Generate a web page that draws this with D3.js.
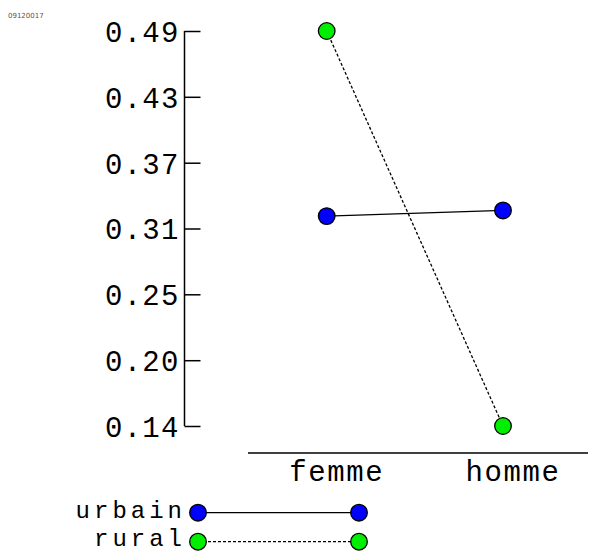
<!DOCTYPE html>
<html><head><meta charset="utf-8">
<script src="https://cdn.jsdelivr.net/npm/d3@7"></script>
<style>body{margin:0;background:#fff}svg{display:block}</style>
</head><body>
<svg id="c" width="592" height="554"></svg>
<script>
const categories = ["femme", "homme"];
const seriesNames = ["urbain", "rural"];
const urbain = [0.329, 0.334];
const rural = [0.493, 0.143];
const yTickValues = [0.143, 0.2013, 0.2597, 0.318, 0.3763, 0.4347, 0.493];
const yTickLabels = ["0.14", "0.20", "0.25", "0.31", "0.37", "0.43", "0.49"];
const colors = ["#0000ff", "#00ee00"];
const dashes = [null, "3,2"];

const svg = d3.select("#c");
const FONT = "'Liberation Mono', 'DejaVu Sans Mono', monospace";

svg.append("text").attr("x", 8).attr("y", 18).attr("font-family", "'DejaVu Sans', sans-serif")
  .attr("font-size", 7).attr("fill", "#555").text("09120017");

const y = d3.scaleLinear().domain([0.143, 0.493]).range([426, 31]);
const x = d3.scalePoint().domain(categories).range([326.7, 503]);

// y axis
const yAxis = d3.axisRight(y).tickValues(yTickValues).tickSize(16)
  .tickFormat((d, i) => yTickLabels[i]);
const ga = svg.append("g").attr("transform", "translate(184.5,0)").call(yAxis);
ga.select(".domain").attr("d", `M0,${y(0.143)}V${y(0.493)}`).attr("stroke", "#000").attr("stroke-width", 1.5);
ga.selectAll(".tick line").attr("stroke", "#000").attr("stroke-width", 1.5);
ga.selectAll(".tick text").attr("x", -5).attr("text-anchor", "end")
  .attr("font-family", FONT).attr("font-size", 29).attr("letter-spacing", 1.2)
  .attr("fill", "#000").attr("dy", "0.36em");

// x axis
svg.append("line").attr("x1", 248).attr("x2", 588).attr("y1", 453).attr("y2", 453)
  .attr("stroke", "#000").attr("stroke-width", 1.5);
svg.selectAll(".xl").data(categories).enter().append("text")
  .attr("x", d => x(d) + 10).attr("y", 481).attr("text-anchor", "middle")
  .attr("font-family", FONT).attr("font-size", 29).attr("letter-spacing", 1.6).text(d => d);

const series = [urbain, rural];
const line = d3.line().x((d, i) => x(categories[i])).y(d => y(d));
series.forEach((vals, s) => {
  svg.append("path").datum(vals).attr("d", line).attr("fill", "none")
    .attr("stroke", "#000").attr("stroke-width", 1.3).attr("stroke-dasharray", dashes[s]);
});
series.forEach((vals, s) => {
  svg.selectAll(".p" + s).data(vals).enter().append("circle")
    .attr("cx", (d, i) => x(categories[i])).attr("cy", d => y(d)).attr("r", 8.3)
    .attr("fill", colors[s]).attr("stroke", "#000").attr("stroke-width", 1.3);
});

// legend
const ly = [512.7, 541.7];
const lbase = [518, 546];
seriesNames.forEach((n, s) => {
  const g = svg.append("g");
  g.append("line").attr("x1", 198).attr("x2", 359).attr("y1", ly[s]).attr("y2", ly[s])
    .attr("stroke", "#000").attr("stroke-width", 1.3).attr("stroke-dasharray", dashes[s]);
  g.append("circle").attr("cx", 198).attr("cy", ly[s]).attr("r", 8.3)
    .attr("fill", colors[s]).attr("stroke", "#000").attr("stroke-width", 1.3);
  g.append("circle").attr("cx", 359).attr("cy", ly[s]).attr("r", 8.3)
    .attr("fill", colors[s]).attr("stroke", "#000").attr("stroke-width", 1.3);
  g.append("text").attr("x", 186).attr("y", lbase[s]).attr("text-anchor", "end")
    .attr("font-family", FONT).attr("font-size", 24).attr("letter-spacing", 4).text(n);
});
</script>
</body></html>
